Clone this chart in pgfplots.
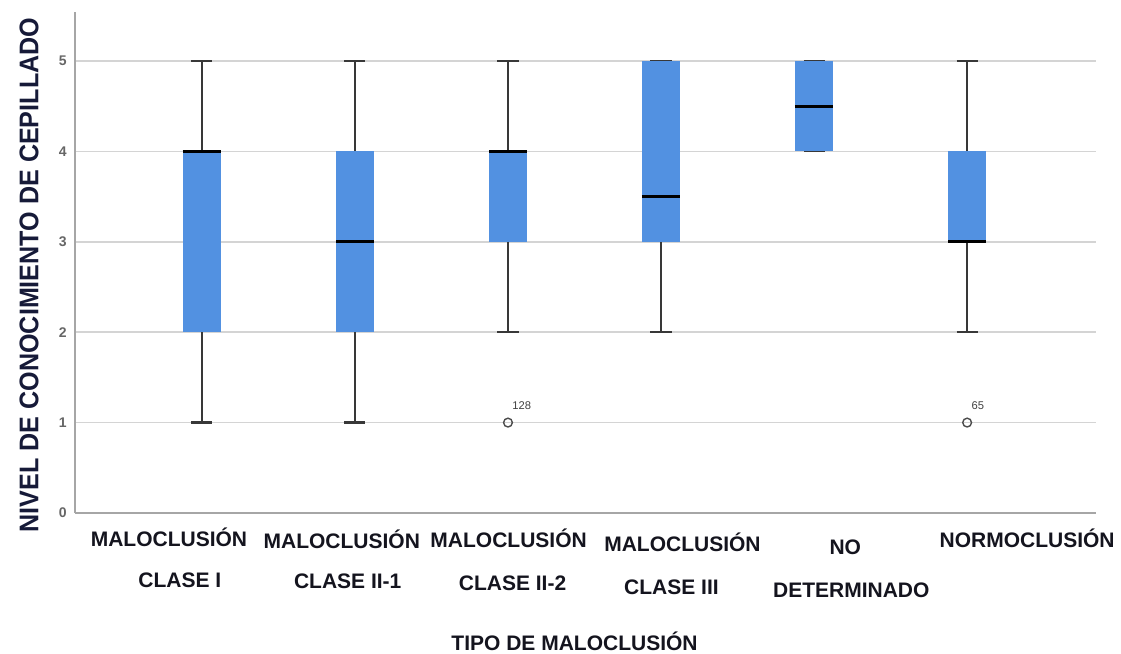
\documentclass[border=0pt]{standalone}
\usepackage{fontspec}
\setmainfont{Liberation Sans}
\newfontfamily\ylabfont[FakeStretch=0.93]{Liberation Sans}
\usepackage{pgfplots}
\pgfplotsset{compat=1.18}
\usepgfplotslibrary{statistics}
\definecolor{boxblue}{RGB}{82,145,225}
\definecolor{labtext}{RGB}{20,20,30}
\definecolor{ylabcol}{RGB}{22,26,56}
\begin{document}
\begin{tikzpicture}
\begin{axis}[
  scale only axis, width=510.5pt, height=250.5pt,
  xmin=-0.829, xmax=5.842, ymin=0, ymax=5.542,
  clip=false,
  axis x line*=bottom, axis y line*=left,
  axis line style={-, draw=black!35, line width=1.3pt},
  xtick=\empty, ytick={0,1,2,3,4,5}, major tick length=0pt,
  ymajorgrids, grid style={draw=black!17, line width=0.8pt},
  /pgf/number format/assume math mode=true,
  yticklabel style={font=\bfseries\fontsize{7}{8}\selectfont, text=black!60, inner sep=0pt, xshift=-4pt},
  boxplot/draw direction=y,
  boxplot/box extend=0.25,
  boxplot/whisker extend=0.138,
  boxplot/every box/.style={draw=none, fill=boxblue},
  boxplot/every whisker/.style={draw=black!78, line width=1.1pt},
  boxplot/every median/.style={draw=black, line width=1.6pt},
]
\addplot[boxplot prepared={draw position=0, lower whisker=1, lower quartile=2, median=4, upper quartile=4, upper whisker=5}] coordinates {};
\addplot[boxplot prepared={draw position=1, lower whisker=1, lower quartile=2, median=3, upper quartile=4, upper whisker=5}] coordinates {};
\addplot[boxplot prepared={draw position=2, lower whisker=2, lower quartile=3, median=4, upper quartile=4, upper whisker=5}, mark=o, mark size=2.2pt, mark options={draw=black!70, line width=0.7pt}] coordinates {(0,1)};
\addplot[boxplot prepared={draw position=3, lower whisker=2, lower quartile=3, median=3.5, upper quartile=5, upper whisker=5}] coordinates {};
\addplot[boxplot prepared={draw position=4, lower whisker=4, lower quartile=4, median=4.5, upper quartile=5, upper whisker=5}] coordinates {};
\addplot[boxplot prepared={draw position=5, lower whisker=2, lower quartile=3, median=3, upper quartile=4, upper whisker=5}, mark=o, mark size=2.2pt, mark options={draw=black!70, line width=0.7pt}] coordinates {(0,1)};

\node[anchor=base west, font=\fontsize{5.6}{6}\selectfont, text=black!75, inner sep=0pt, xshift=2pt, yshift=6.5pt] at (axis cs:2,1) {128};
\node[anchor=base west, font=\fontsize{5.6}{6}\selectfont, text=black!75, inner sep=0pt, xshift=2pt, yshift=6.5pt] at (axis cs:5,1) {65};

\tikzset{tl/.style={anchor=base, inner sep=0pt, text=labtext, font=\bfseries\fontsize{10.5}{12}\selectfont}}
\node[tl, yshift=-17pt] at (axis cs:-0.215,0) {MALOCLUSIÓN};
\node[tl, yshift=-37.5pt] at (axis cs:-0.144,0) {CLASE I};
\node[tl, yshift=-18pt] at (axis cs:0.914,0) {MALOCLUSIÓN};
\node[tl, yshift=-38pt] at (axis cs:0.953,0) {CLASE II-1};
\node[tl, yshift=-17.5pt] at (axis cs:2.004,0) {MALOCLUSIÓN};
\node[tl, yshift=-39pt] at (axis cs:2.03,0) {CLASE II-2};
\node[tl, yshift=-19.5pt] at (axis cs:3.14,0) {MALOCLUSIÓN};
\node[tl, yshift=-41pt] at (axis cs:3.068,0) {CLASE III};
\node[tl, yshift=-21pt] at (axis cs:4.204,0) {NO};
\node[tl, yshift=-42.5pt] at (axis cs:4.243,0) {DETERMINADO};
\node[tl, yshift=-17.5pt] at (axis cs:5.392,0) {NORMOCLUSIÓN};
\node[tl, yshift=-69pt] at (axis cs:2.435,0) {TIPO DE MALOCLUSIÓN};

\coordinate (yl) at (rel axis cs:0,0.475);
\coordinate (ll) at (rel axis cs:0,0);
\coordinate (ur) at (rel axis cs:1,1);
\end{axis}
\node[rotate=90, inner sep=0pt, text=ylabcol, font=\ylabfont\bfseries\fontsize{13.5}{15}\selectfont] at ([xshift=-23pt]yl) {NIVEL DE CONOCIMIENTO DE CEPILLADO};
\pgfresetboundingbox
\path ([xshift=-37.5pt,yshift=-70.5pt]ll) rectangle ([xshift=12.5pt,yshift=6pt]ur);
\end{tikzpicture}
\end{document}
